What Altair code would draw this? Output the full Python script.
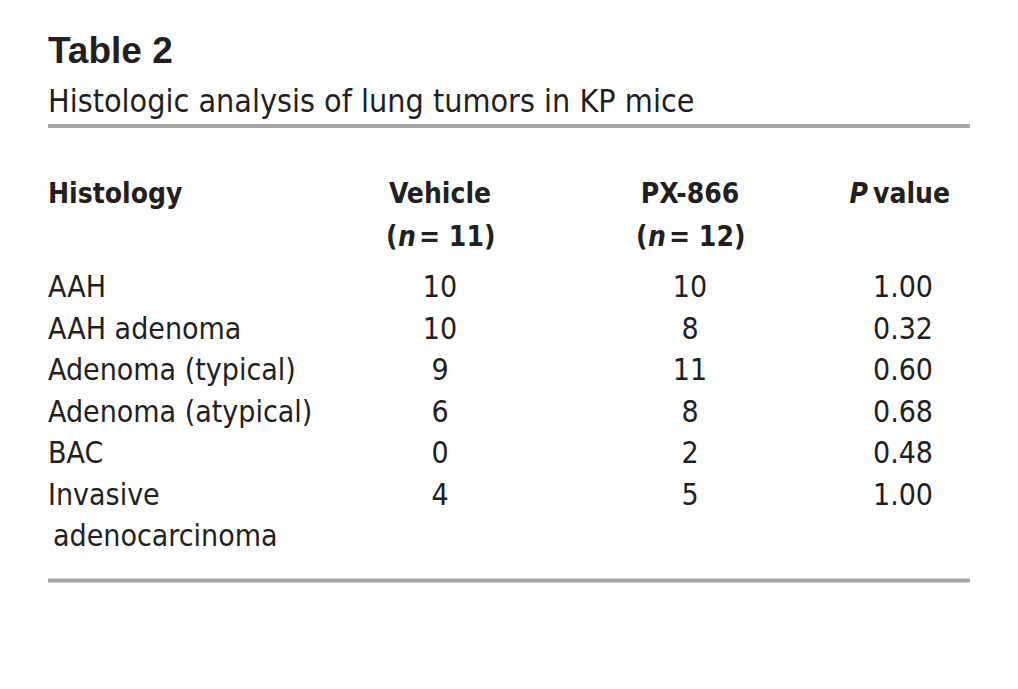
import altair as alt
import pandas as pd

# ---- table content ----
title_text = "Table 2"
subtitle_text = "Histologic analysis of lung tumors in KP mice"
header_label = "Histology"
group_names = ["Vehicle", "PX-866"]
group_n = [11, 12]
histology = ["AAH", "AAH adenoma", "Adenoma (typical)", "Adenoma (atypical)", "BAC",
             "Invasive adenocarcinoma"]
vehicle = [10, 10, 9, 6, 0, 4]
px866 = [10, 8, 11, 8, 2, 5]
pvalue = [1.00, 0.32, 0.60, 0.68, 0.48, 1.00]
wrapped = {"Invasive adenocarcinoma": ("Invasive", "adenocarcinoma")}

# ---- layout / style ----
W, H = 1002, 673
FONT_N = "DejaVu Sans Condensed"
FONT_T = "Liberation Sans"
INK = "#231f20"
RULE = "#a7a7a7"
COL_X = [40, 432, 682, 895]          # label (left edge), vehicle, px866, p (centres)
ROW0_Y, ROW_STEP = 289, 41.5
BODY_SIZE = 30
HEAD_SIZE = 28

xs = alt.Scale(domain=[0, 1, 2, 3], range=COL_X, nice=False, zero=False)
ys = alt.Scale(domain=[0, 1], range=[ROW0_Y, ROW0_Y + ROW_STEP], zero=False, nice=False)
X = alt.X("c:Q", scale=xs, axis=None)
Y = alt.Y("row:Q", scale=ys, axis=None)

lab_rows, cont_rows = [], []
for i, h in enumerate(histology):
    if h in wrapped:
        first, second = wrapped[h]
        lab_rows.append({"row": i, "c": 0, "text": first})
        cont_rows.append({"row": i + 1, "c": 0, "text": second})
    else:
        lab_rows.append({"row": i, "c": 0, "text": h})
lab_df = pd.DataFrame(lab_rows)
cont_df = pd.DataFrame(cont_rows)

num_rows = []
for i in range(len(histology)):
    num_rows.append({"row": i, "c": 1, "text": str(vehicle[i])})
    num_rows.append({"row": i, "c": 2, "text": str(px866[i])})
    num_rows.append({"row": i, "c": 3, "text": f"{pvalue[i]:.2f}"})
num_df = pd.DataFrame(num_rows)

body = dict(baseline="alphabetic", font=FONT_N, fontSize=BODY_SIZE, color=INK)
labels = alt.Chart(lab_df).mark_text(align="left", **body).encode(x=X, y=Y, text="text:N")
conts = alt.Chart(cont_df).mark_text(align="left", dx=5, **body).encode(x=X, y=Y, text="text:N")
nums = alt.Chart(num_df).mark_text(align="center", **body).encode(x=X, y=Y, text="text:N")

# header rows
HEAD1_Y, HEAD2_Y = 195, 238
bold = dict(baseline="alphabetic", font=FONT_N, fontSize=HEAD_SIZE, fontWeight="bold",
            color=INK)

head_df = pd.DataFrame({"c": [1, 2], "text": group_names})
head1 = alt.Chart(head_df).mark_text(align="center", **bold).encode(
    x=X, y=alt.value(HEAD1_Y), text="text:N")

hl_df = pd.DataFrame({"c": [0], "text": [header_label]})
headlab = alt.Chart(hl_df).mark_text(align="left", **bold).encode(
    x=X, y=alt.value(HEAD1_Y), text="text:N")

n_df = pd.DataFrame({"c": [1, 2], "open": ["(", "("], "nn": ["n", "n"],
                     "rest": [f"= {n})" for n in group_n]})
n_open = alt.Chart(n_df).mark_text(align="left", dx=-54, **bold).encode(
    x=X, y=alt.value(HEAD2_Y), text="open:N")
n_ital = alt.Chart(n_df).mark_text(align="left", dx=-42, fontStyle="italic", **bold).encode(
    x=X, y=alt.value(HEAD2_Y), text="nn:N")
n_rest = alt.Chart(n_df).mark_text(align="left", dx=-21, **bold).encode(
    x=X, y=alt.value(HEAD2_Y), text="rest:N")

p_df = pd.DataFrame({"c": [3], "a": ["P"], "b": ["value"]})
p_a = alt.Chart(p_df).mark_text(align="right", dx=-35, fontStyle="italic", **bold).encode(
    x=X, y=alt.value(HEAD1_Y), text="a:N")
p_b = alt.Chart(p_df).mark_text(align="left", dx=-30, **bold).encode(
    x=X, y=alt.value(HEAD1_Y), text="b:N")

# title & subtitle
t_df = pd.DataFrame({"c": [0], "t": [title_text], "s": [subtitle_text]})
title = alt.Chart(t_df).mark_text(
    align="left", baseline="alphabetic", font=FONT_T, fontSize=37, fontWeight="bold",
    color=INK
).encode(x=X, y=alt.value(55), text="t:N")
subtitle = alt.Chart(t_df).mark_text(
    align="left", baseline="alphabetic", font=FONT_N, fontSize=32, color=INK
).encode(x=X, y=alt.value(104), text="s:N")

# horizontal rules
r_df = pd.DataFrame({"y": [118, 572.5]})
rules = alt.Chart(r_df).mark_rule(color=RULE, strokeWidth=4).encode(
    x=alt.value(40), x2=alt.value(962), y=alt.Y("y:Q", scale=None, axis=None))

chart = alt.layer(rules, title, subtitle, headlab, head1, n_open, n_ital, n_rest, p_a, p_b,
                  labels, conts, nums).properties(
    width=W, height=H, padding=0, autosize=alt.AutoSizeParams(type="none"),
    background="white"
).configure_view(stroke=None)

chart.save("out.html", embed_options={"renderer": "svg", "actions": False})
